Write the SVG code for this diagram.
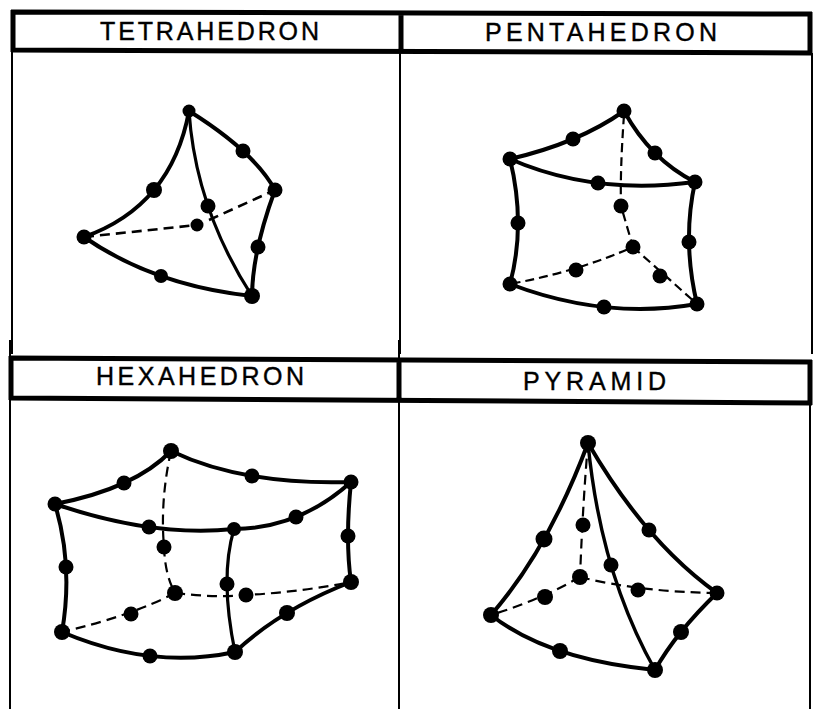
<svg xmlns="http://www.w3.org/2000/svg" width="816" height="709" viewBox="0 0 816 709">
<style>
.heavy{fill:none;stroke:#000;stroke-width:5}
.thin{fill:none;stroke:#000;stroke-width:2}
.edge{fill:none;stroke:#000;stroke-width:4;stroke-linecap:round}
.inner{fill:none;stroke:#000;stroke-width:3.2;stroke-linecap:round}
.dash{fill:none;stroke:#000;stroke-width:2.6;stroke-dasharray:10 6}
.dot{fill:#000}
text{font-family:"Liberation Sans",Arial,sans-serif;font-size:25px;fill:#000;stroke:#000;stroke-width:.4;text-anchor:start}
</style>
<rect width="816" height="709" fill="#fff"/>
<g id="frame">
<path class="heavy" d="M11 12L812 14M11 50L812 53M9 358L812 362M9 398L812 403M13 10V52M810 12V55M11 356V400M810 360V405M401 11V53M399 358V401"/>
<path class="thin" d="M12 50V354M400 52V354M812 53V354M10 340V709M399 340V709M810 400V709"/>
</g>
<g id="connectors">
<path class="edge" d="M189 111Q254 151.500 275 190M189 111Q171.500 206 84 237M84 237Q154 285.500 252 296M275 190Q252.500 251 252 296"/>
<path class="inner" d="M189 111Q195.500 208.500 252 296"/>
<path class="dash" d="M84 237L197 225M209 220L275 190"/>

<path class="edge" d="M624 111Q579 143 510 159M624 111Q650.500 159.500 695 182M510 159Q593.500 195.500 695 182M510 159Q526 224.500 510 284M695 182Q682 241 697 304M510 284Q604.500 320 697 304"/>
<path class="dash" d="M624 115Q620 170 621 206L633 247Q576 272 510 284M633 247L697 304" style="stroke-width:2.200;stroke-dasharray:9 5"/>

<path class="edge" d="M171 451Q135 488.500 55 504M171 451Q243 485.500 351 482M55 504Q153.500 537.500 234 529M234 529Q299.500 528.500 351 482M55 504Q73.500 566 62 632M351 482Q345 540 351 582M62 632Q151.500 670 235 652M235 652Q281 609 351 582"/>
<path class="inner" d="M234 529Q219.500 577.500 235 652"/>
<path class="dash" d="M171 451Q160 500 164 547Q165 575 175 593M175 593Q215 598 246 595Q300 592 351 582M175 593Q131 616 62 632" style="stroke-width:2.200;stroke-dasharray:10 6"/>

<path class="edge" d="M588 443Q548.500 549 491 615M588 443Q645.500 542 717 593M491 615Q547 659.500 655 670M717 593Q676 632.500 655 670"/>
<path class="inner" d="M588 443Q600.500 573.500 655 670" style="stroke-width:3.400"/>
<path class="dash" d="M588 443Q583 500 580 577M580 577Q540 600 491 615M580 577Q640 592 717 593" style="stroke-width:2.200;stroke-dasharray:10 6"/>
</g>
<g id="tetrahedron">
<text x="100" y="40" textLength="219" lengthAdjust="spacing">TETRAHEDRON</text>
<circle class="dot" cx="189" cy="111" r="6.500"/><circle class="dot" cx="243" cy="151" r="7.500"/><circle class="dot" cx="275" cy="190" r="7.500"/><circle class="dot" cx="154" cy="190" r="8"/><circle class="dot" cx="208" cy="206" r="7.500"/><circle class="dot" cx="197" cy="225" r="6.500"/><circle class="dot" cx="84" cy="237" r="7.500"/><circle class="dot" cx="258" cy="247" r="7.500"/><circle class="dot" cx="161" cy="276" r="7"/><circle class="dot" cx="252" cy="296" r="8"/>
</g>
<g id="pentahedron">
<text x="485" y="41" textLength="232" lengthAdjust="spacing">PENTAHEDRON</text>
<circle class="dot" cx="624" cy="111" r="7.500"/><circle class="dot" cx="573" cy="139" r="7.500"/><circle class="dot" cx="655" cy="153" r="7.500"/><circle class="dot" cx="510" cy="159" r="7.500"/><circle class="dot" cx="695" cy="182" r="7.500"/><circle class="dot" cx="598" cy="183" r="7.500"/><circle class="dot" cx="621" cy="206" r="7.500"/><circle class="dot" cx="518" cy="223" r="7.500"/><circle class="dot" cx="689" cy="242" r="7.500"/><circle class="dot" cx="633" cy="247" r="7.500"/><circle class="dot" cx="576" cy="270" r="7.500"/><circle class="dot" cx="660" cy="276" r="7.500"/><circle class="dot" cx="510" cy="284" r="7.500"/><circle class="dot" cx="697" cy="304" r="7.500"/><circle class="dot" cx="604" cy="307" r="7.500"/>
</g>
<g id="hexahedron">
<text x="96" y="385" textLength="208" lengthAdjust="spacing">HEXAHEDRON</text>
<circle class="dot" cx="171" cy="451" r="8"/><circle class="dot" cx="124" cy="483" r="7.500"/><circle class="dot" cx="252" cy="476" r="7.500"/><circle class="dot" cx="351" cy="482" r="7.500"/><circle class="dot" cx="55" cy="504" r="7.500"/><circle class="dot" cx="296" cy="517" r="7.500"/><circle class="dot" cx="234" cy="529" r="7"/><circle class="dot" cx="149" cy="527" r="7.500"/><circle class="dot" cx="164" cy="547" r="7.500"/><circle class="dot" cx="348" cy="536" r="7.500"/><circle class="dot" cx="66" cy="567" r="7.500"/><circle class="dot" cx="227" cy="584" r="7.500"/><circle class="dot" cx="351" cy="582" r="8"/><circle class="dot" cx="175" cy="593" r="8"/><circle class="dot" cx="246" cy="595" r="7.500"/><circle class="dot" cx="287" cy="613" r="8"/><circle class="dot" cx="131" cy="614" r="7.500"/><circle class="dot" cx="62" cy="632" r="8"/><circle class="dot" cx="235" cy="652" r="8"/><circle class="dot" cx="150" cy="656" r="7.500"/>
</g>
<g id="pyramid">
<text x="523" y="390" textLength="143" lengthAdjust="spacing">PYRAMID</text>
<circle class="dot" cx="588" cy="443" r="8"/><circle class="dot" cx="544" cy="539" r="8.500"/><circle class="dot" cx="649" cy="530" r="7.500"/><circle class="dot" cx="583" cy="525" r="7.500"/><circle class="dot" cx="611" cy="565" r="7.500"/><circle class="dot" cx="580" cy="577" r="8"/><circle class="dot" cx="638" cy="590" r="7.500"/><circle class="dot" cx="717" cy="593" r="7.500"/><circle class="dot" cx="545" cy="597" r="8"/><circle class="dot" cx="491" cy="615" r="8"/><circle class="dot" cx="681" cy="632" r="8"/><circle class="dot" cx="560" cy="651" r="8"/><circle class="dot" cx="655" cy="670" r="8"/>
</g>
</svg>
